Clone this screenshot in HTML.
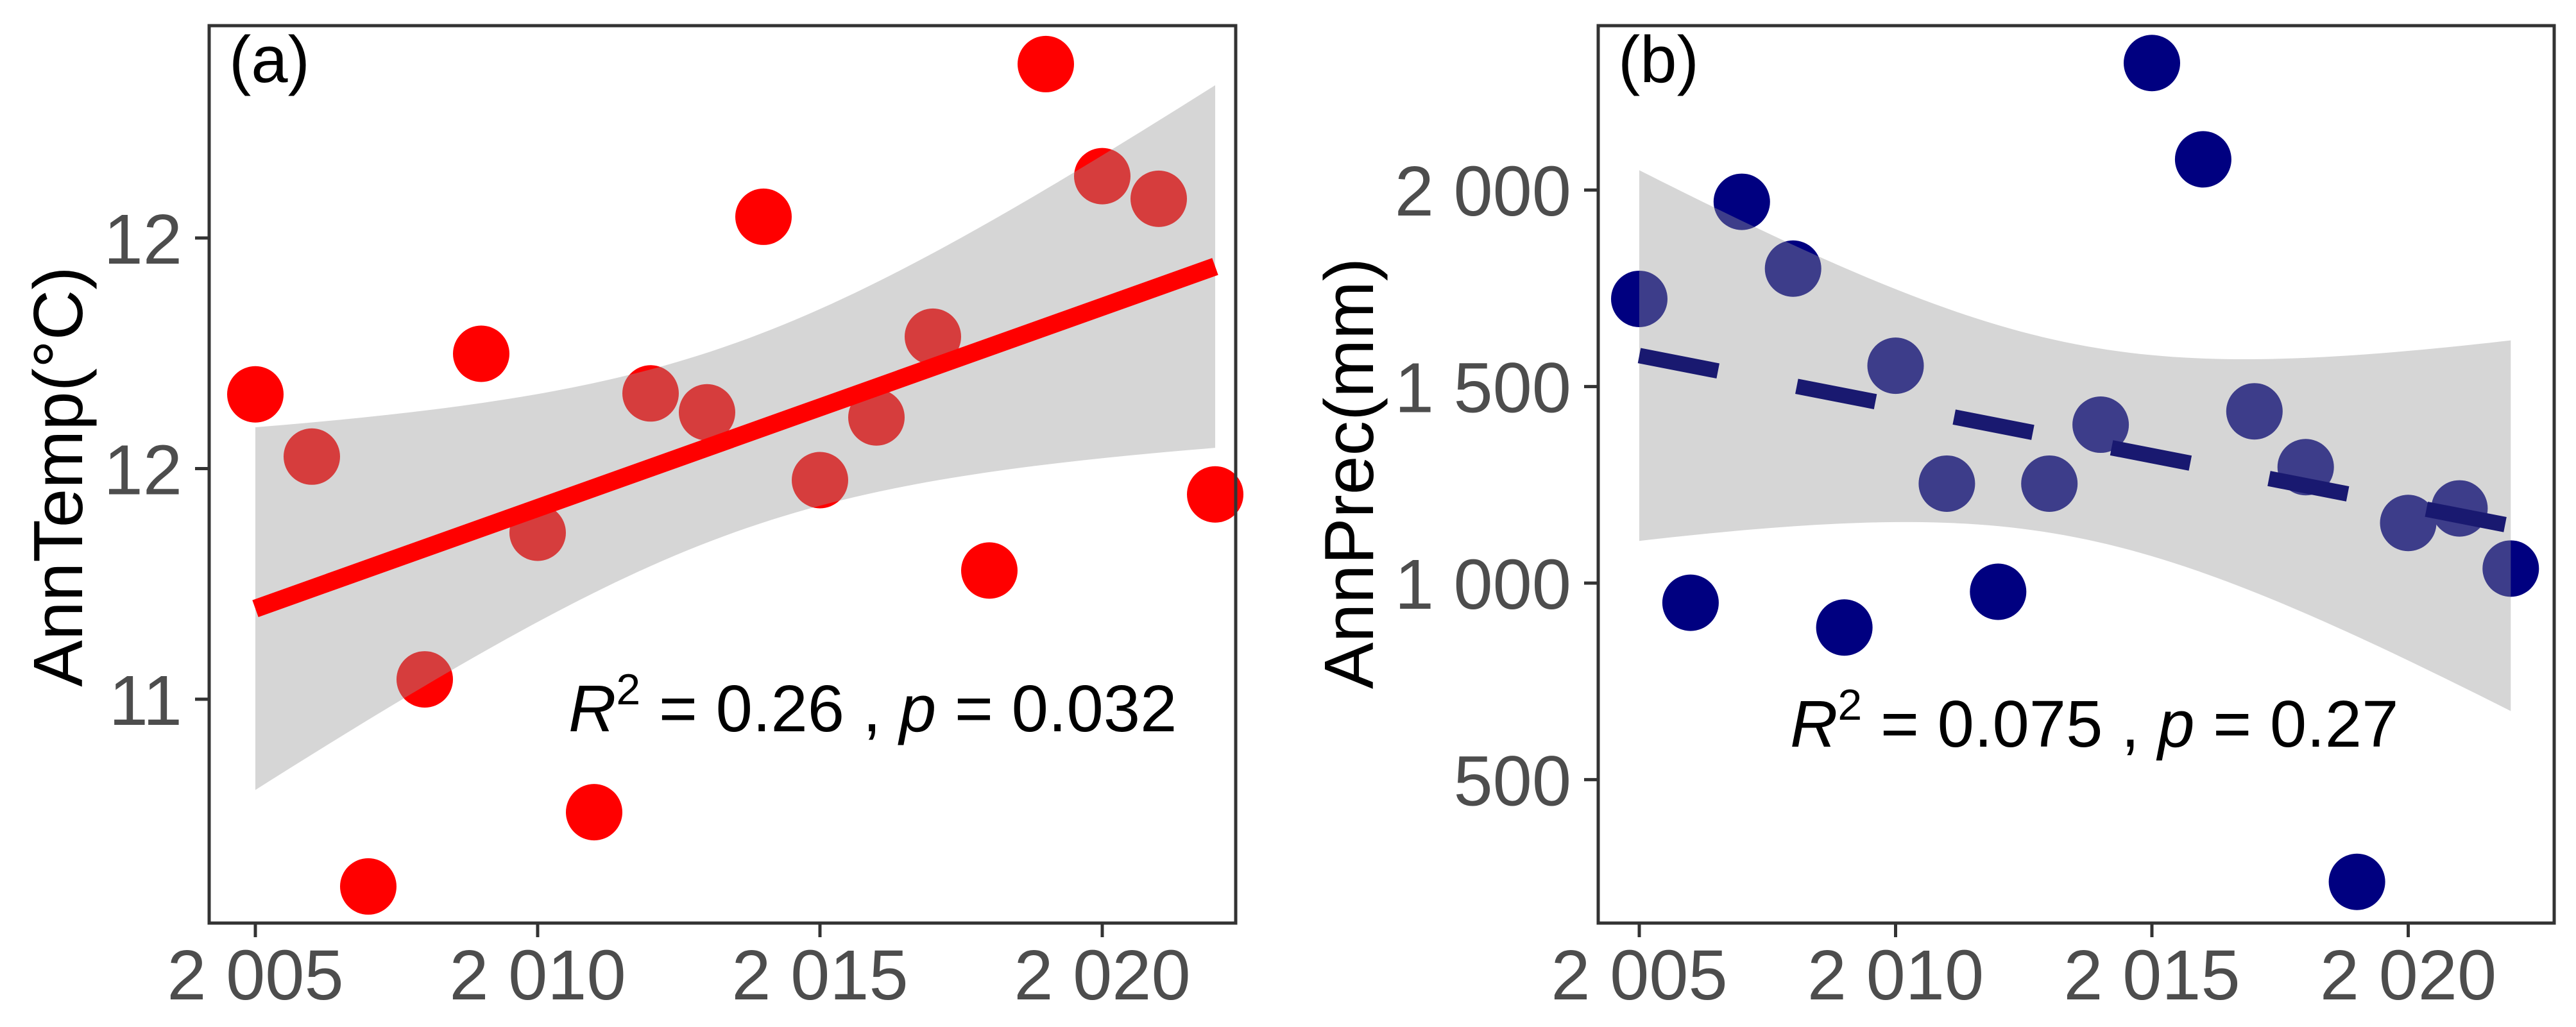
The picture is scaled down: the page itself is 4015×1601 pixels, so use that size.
<!DOCTYPE html>
<html><head><meta charset="utf-8"><style>
html,body{margin:0;padding:0;background:#fff;}
svg{display:block;font-family:"Liberation Sans",Arial,sans-serif;}
</style></head><body>
<svg id="chart" width="4015" height="1601" viewBox="0 0 4015 1601" xmlns="http://www.w3.org/2000/svg"></svg>
<script>
const years = [2005,2006,2007,2008,2009,2010,2011,2012,2013,2014,2015,2016,2017,2018,2019,2020,2021,2022];
const tempValues = [11.661,11.526,10.594,11.043,11.749,11.361,10.755,11.663,11.622,12.046,11.475,11.611,11.786,11.279,12.377,12.134,12.085,11.444];
const precValues = [1723,950,1970,1800,887,1553,1253,978,1253,1403,2323,2078,1437,1295,240,1153,1190,1037];
const xTicks = [2005,2010,2015,2020];
const xTickLabels = ["2 005","2 010","2 015","2 020"];
const tempTicks = [11,11.5,12];
const tempTickLabels = ["11","12","12"];
const precTicks = [500,1000,1500,2000];
const precTickLabels = ["500","1 000","1 500","2 000"];

const NS = "http://www.w3.org/2000/svg";
const svg = document.getElementById('chart');
function mk(tag, attrs, parent){
  const e = document.createElementNS(NS, tag);
  for (const k in attrs) e.setAttribute(k, attrs[k]);
  (parent||svg).appendChild(e);
  return e;
}
function regress(xs, ys){
  const n = xs.length;
  const mx = xs.reduce((a,b)=>a+b,0)/n, my = ys.reduce((a,b)=>a+b,0)/n;
  let sxx=0, sxy=0;
  for (let i=0;i<n;i++){ sxx+=(xs[i]-mx)**2; sxy+=(xs[i]-mx)*(ys[i]-my); }
  const b = sxy/sxx, a = my - b*mx;
  let sse=0; for (let i=0;i<n;i++) sse+=(ys[i]-a-b*xs[i])**2;
  const s = Math.sqrt(sse/(n-2));
  return {a,b,s,n,mx,sxx};
}

function panel(cfg){
  const g = mk('g', {});
  
  
  const xs = v => cfg.x0 + (v-2005)*cfg.xk;
  const ys = v => cfg.yRef - (v-cfg.vRef)*cfg.yk;
  const r = regress(years, cfg.values);
  const t = 2.12;
  cfg.values.forEach((v,i)=>{
    const c = mk('circle', {cx: xs(years[i]), cy: ys(v), r: 44, fill: cfg.color}, g);
    
    
  });
  const up=[], lo=[];
  for (let k=0;k<=80;k++){
    const x = 2005 + 17*k/80;
    const f = r.a + r.b*x;
    const se = r.s*Math.sqrt(1/r.n + (x-r.mx)**2/r.sxx);
    up.push(xs(x)+','+ys(f+t*se)); lo.unshift(xs(x)+','+ys(f-t*se));
  }
  const band = mk('polygon', {points: up.concat(lo).join(' '), fill:'#999999', 'fill-opacity':0.4}, g);
  
  
  const ln = mk('line', {x1: xs(2005), y1: ys(r.a+r.b*2005), x2: xs(2022), y2: ys(r.a+r.b*2022), stroke: cfg.lineColor, 'stroke-width': cfg.lw}, g);
  if (cfg.dash) ln.setAttribute('stroke-dasharray', cfg.dash);
  
  
  const box = mk('rect', {x: cfg.L, y: 40, width: cfg.R-cfg.L, height: 1439-40, fill:'none', stroke:'#333', 'stroke-width':5}, g);
  
  
  xTicks.forEach((v,i)=>{
    const tk = mk('line', {x1: xs(v), x2: xs(v), y1: 1439, y2: 1461, stroke:'#333', 'stroke-width':5}, g);
    
    
    const tx = mk('text', {x: xs(v), y: 1558, 'text-anchor':'middle', 'font-size':110, fill:'#4d4d4d'}, g);
    tx.textContent = xTickLabels[i];
    
    
  });
  cfg.ticks.forEach((v,i)=>{
    const tk = mk('line', {x1: cfg.L-22, x2: cfg.L, y1: ys(v), y2: ys(v), stroke:'#333', 'stroke-width':5}, g);
    
    
    const tx = mk('text', {x: cfg.L-42, y: ys(v)+40, 'text-anchor':'end', 'font-size':110, fill:'#4d4d4d'}, g);
    tx.textContent = cfg.tickLabels[i];
    
    
  });
  const yt = mk('text', {x: 0, y: 0, 'text-anchor':'middle', 'font-size':109, fill:'#000', transform:'translate('+cfg.titleX+','+cfg.titleY+') rotate(-90)'}, g);
  yt.textContent = cfg.title;
  
  
  const pl = mk('text', {x: cfg.L+31, y: 128, 'font-size':103, fill:'#000'}, g);
  pl.textContent = cfg.label;
  
  
  const an = mk('text', {x: cfg.annX, y: cfg.annY, 'font-size':103, fill:'#000'}, g);
  
  
  an.innerHTML = '<tspan font-style="italic">R</tspan><tspan font-size="68" dy="-42">2</tspan><tspan dy="42"> = ' + cfg.r2 + ' , </tspan><tspan font-style="italic">p</tspan><tspan> = ' + cfg.p + '</tspan>';
}

panel({name:'panel-a-temperature', values: tempValues, x0:398, xk:88, L:326, R:1926,
  yRef:1090, vRef:11, yk:719, ticks: tempTicks, tickLabels: tempTickLabels,
  color:'#ff0000', lineColor:'#ff0000', lw:28, dash:null,
  title:'AnnTemp(°C)', titleX:128, titleY:743, label:'(a)',
  annX:886, annY:1140, r2:'0.26', p:'0.032'});
panel({name:'panel-b-precipitation', values: precValues, x0:2555, xk:79.9, L:2491, R:3981,
  yRef:909, vRef:1000, yk:0.6128, ticks: precTicks, tickLabels: precTickLabels,
  color:'#000080', lineColor:'#191970', lw:24, dash:'125 125',
  title:'AnnPrec(mm)', titleX:2140, titleY:738, label:'(b)',
  annX:2790, annY:1164, r2:'0.075', p:'0.27'});
</script>
</body></html>
